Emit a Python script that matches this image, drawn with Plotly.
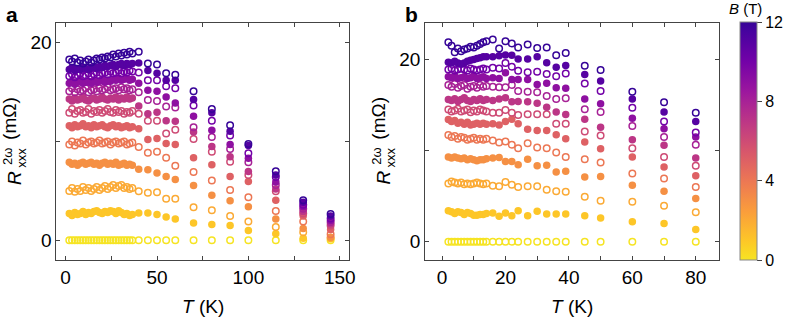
import plotly.graph_objects as go
from plotly.colors import sample_colorscale

W, H = 793, 318

# ---------------- data ----------------
B_FIELDS = list(range(13))  # tesla, 0..12

# panel a temperatures
TA_DENSE = [2.0, 3.5, 5.0, 6.5, 8.0, 9.5, 11.0, 12.5, 14.0, 15.5, 17.0, 18.5,
            20.0, 21.5, 23.0, 24.5, 26.0, 27.5, 29.0, 30.5, 32.0, 33.5, 35.0, 36.5]
TA_SPARSE = [40, 45, 50, 55, 60, 70, 80, 90, 100, 115, 130, 145]

# panel a, dense low-T values (mOhm), one list per B = 0..12
A_DENSE = [
    [0.0] * 24,
    [2.7, 2.5, 2.8, 2.6, 2.7, 2.9, 2.6, 2.8, 2.7, 2.9, 3.0, 2.8, 2.7, 2.9, 2.8, 3.0, 2.9, 2.7, 3.0, 2.8, 2.6, 2.7, 2.5, 2.6],
    [5.0, 5.3, 4.9, 5.2, 5.0, 5.4, 5.1, 5.3, 5.0, 5.2, 5.4, 5.1, 5.3, 5.5, 5.2, 5.4, 5.6, 5.3, 5.5, 5.6, 5.3, 5.4, 5.2, 5.3],
    [7.9, 7.7, 7.8, 7.6, 7.8, 7.9, 7.7, 7.8, 7.9, 7.7, 7.8, 7.6, 7.8, 7.9, 7.7, 7.8, 7.7, 7.9, 7.6, 7.7, 7.8, 7.6, 7.7, 7.6],
    [9.7, 10.0, 9.6, 9.9, 9.8, 10.1, 9.7, 9.9, 10.0, 9.8, 9.9, 10.1, 9.8, 9.9, 10.0, 9.7, 9.9, 10.0, 9.8, 9.9, 10.0, 9.7, 9.8, 9.9],
    [11.6, 11.4, 11.7, 11.5, 11.6, 11.8, 11.5, 11.6, 11.4, 11.7, 11.5, 11.6, 11.7, 11.5, 11.4, 11.6, 11.7, 11.5, 11.6, 11.4, 11.5, 11.6, 11.4, 11.5],
    [12.9, 13.3, 12.8, 13.1, 13.2, 12.9, 13.0, 13.3, 12.8, 13.1, 13.0, 13.2, 12.9, 13.1, 13.3, 13.0, 12.9, 13.2, 13.0, 13.1, 12.8, 13.0, 12.9, 13.1],
    [14.3, 14.1, 14.4, 14.2, 14.3, 14.5, 14.2, 14.1, 14.3, 14.4, 14.2, 14.3, 14.5, 14.3, 14.2, 14.4, 14.3, 14.5, 14.2, 14.4, 14.3, 14.5, 14.3, 14.4],
    [15.1, 15.4, 15.0, 15.3, 15.1, 15.2, 15.4, 15.0, 15.2, 15.3, 15.1, 15.4, 15.2, 15.3, 15.5, 15.2, 15.3, 15.4, 15.2, 15.5, 15.3, 15.4, 15.2, 15.3],
    [15.9, 16.1, 15.8, 16.0, 16.2, 15.9, 16.0, 16.1, 15.9, 16.2, 16.0, 16.1, 16.3, 16.0, 16.2, 16.1, 16.3, 16.2, 16.4, 16.2, 16.3, 16.4, 16.2, 16.3],
    [16.6, 16.8, 16.5, 16.7, 16.9, 16.6, 16.7, 16.9, 16.6, 16.8, 17.0, 16.7, 16.9, 17.0, 16.8, 17.1, 16.9, 17.0, 17.2, 16.9, 17.1, 17.0, 17.2, 17.1],
    [17.3, 17.5, 17.2, 17.4, 17.3, 17.5, 17.4, 17.3, 17.5, 17.6, 17.4, 17.6, 17.5, 17.7, 17.6, 17.7, 17.8, 17.6, 17.8, 17.9, 17.7, 17.9, 17.8, 17.9],
    [18.3, 18.1, 18.4, 18.0, 18.2, 17.9, 18.1, 18.3, 18.0, 18.2, 18.4, 18.3, 18.5, 18.4, 18.6, 18.5, 18.8, 18.6, 18.9, 18.7, 19.0, 18.8, 19.1, 18.9],
]

# panel a, sparse columns: one list per temperature, values for B = 12 .. 0
A_SPARSE_COLS = [
    [19.1, 17.95, 17.0, 15.9, 15.0, 13.6, 12.8, 11.3, 9.45, 7.2, 4.95, 2.75, 0.0],   # 40 K
    [17.9, 17.2, 16.2, 15.2, 14.2, 12.8, 12.1, 10.2, 8.85, 7.15, 4.8, 2.75, 0.0],    # 45 K
    [17.8, 16.9, 16.2, 15.1, 14.1, 12.95, 12.1, 10.3, 8.95, 6.8, 4.85, 2.6, 0.0],    # 50 K
    [16.9, 16.2, 15.6, 14.5, 13.55, 12.1, 10.8, 9.8, 8.35, 6.45, 4.2, 2.35, 0.0],    # 55 K
    [16.75, 16.2, 15.4, 13.9, 13.45, 12.05, 11.2, 9.7, 7.55, 6.15, 4.2, 2.15, 0.0],  # 60 K
    [15.1, 14.25, 13.65, 12.55, 11.45, 10.95, 10.25, 8.35, 6.9, 5.55, 3.35, 1.75, 0.0],  # 70 K
    [13.3, 12.9, 12.1, 11.15, 10.45, 9.5, 8.95, 7.65, 6.05, 4.55, 3.05, 1.6, 0.0],   # 80 K
    [11.65, 11.05, 10.6, 9.7, 9.25, 8.45, 7.95, 6.45, 5.1, 4.0, 2.45, 1.5, 0.0],     # 90 K
    [9.75, 9.6, 8.8, 8.3, 7.9, 6.95, 6.6, 5.95, 4.35, 3.4, 1.9, 1.0, 0.0],           # 100 K
    [7.0, 6.6, 6.4, 5.9, 5.6, 5.2, 4.95, 4.05, 2.95, 2.15, 1.35, 0.65, 0.0],         # 115 K
    [4.05, 3.85, 3.6, 3.4, 3.2, 2.9, 2.7, 2.45, 1.9, 1.2, 0.8, 0.2, 0.0],            # 130 K
    [2.65, 2.45, 2.2, 2.0, 1.85, 1.65, 1.5, 1.1, 0.6, 0.3, 0.25, 0.15, 0.0],         # 145 K
]

# panel b temperatures
TB_DENSE = [2, 3, 4, 5, 6, 7, 8, 9, 10, 11, 12, 13, 14]
TB_SPARSE = [16, 18, 20, 22, 24, 27, 30, 33, 36, 39, 45, 50, 60, 70, 80]

B_DENSE = [
    [0.0] * 13,
    [3.4, 3.3, 3.1, 3.3, 3.2, 3.0, 3.2, 3.1, 2.9, 2.9, 3.0, 3.0, 3.1],
    [6.4, 6.6, 6.5, 6.4, 6.5, 6.3, 6.4, 6.3, 6.4, 6.5, 6.4, 6.3, 6.4],
    [9.3, 9.2, 9.3, 9.2, 9.1, 9.2, 9.0, 9.1, 9.0, 8.9, 9.0, 9.0, 9.1],
    [11.7, 11.5, 11.6, 11.3, 11.5, 11.4, 11.2, 11.3, 11.4, 11.2, 11.3, 11.2, 11.3],
    [13.4, 13.2, 13.3, 13.0, 13.1, 12.9, 13.1, 12.8, 12.9, 13.0, 12.9, 13.0, 12.9],
    [14.5, 14.3, 14.4, 14.6, 14.3, 14.4, 14.5, 14.2, 14.4, 14.3, 14.5, 14.4, 14.3],
    [15.6, 15.5, 15.7, 15.4, 15.6, 15.8, 15.5, 15.4, 15.6, 15.5, 15.7, 15.5, 15.6],
    [17.2, 17.0, 17.3, 16.9, 17.1, 17.2, 16.8, 17.0, 17.1, 16.9, 17.2, 17.0, 17.1],
    [18.1, 18.0, 18.2, 17.9, 18.0, 18.1, 17.9, 18.0, 18.2, 17.9, 18.0, 18.1, 17.9],
    [18.9, 19.0, 18.8, 18.9, 19.0, 18.9, 18.8, 19.0, 18.9, 18.8, 18.9, 19.0, 18.9],
    [19.7, 19.6, 19.8, 19.6, 19.5, 19.6, 19.8, 19.9, 20.0, 20.1, 20.2, 20.3, 20.3],
    [21.9, 21.5, 20.8, 21.2, 20.9, 21.1, 21.2, 21.4, 21.3, 21.5, 21.7, 21.9, 22.0],
]

# panel b, sparse columns: one list per temperature, values for B = 12 .. 0
B_SPARSE_COLS = [
    [22.2, 20.3, 19.1, 18.0, 17.0, 15.5, 14.15, 12.95, 11.1, 9.2, 6.15, 3.15, 0.0],   # 16 K
    [21.2, 20.4, 19.0, 17.9, 16.95, 15.65, 14.15, 12.8, 10.9, 9.25, 6.1, 2.8, 0.0],   # 18 K
    [22.0, 20.5, 19.6, 18.55, 16.95, 15.8, 14.45, 13.2, 11.0, 8.8, 6.55, 3.15, 0.0],  # 20 K
    [21.75, 20.45, 19.2, 17.8, 17.2, 15.35, 14.15, 13.45, 10.65, 8.8, 6.25, 2.85, 0.0],  # 22 K
    [21.3, 20.05, 18.75, 17.8, 16.55, 15.4, 13.9, 12.95, 10.25, 8.45, 6.0, 3.4, 0.0],  # 24 K
    [21.65, 20.05, 18.6, 17.8, 16.45, 15.35, 14.0, 12.35, 10.8, 9.05, 6.1, 2.85, 0.0],  # 27 K
    [21.25, 20.3, 18.65, 17.25, 16.4, 15.2, 14.0, 12.2, 10.35, 8.35, 6.1, 3.35, 0.0],  # 30 K
    [21.3, 19.65, 18.4, 17.4, 16.0, 14.75, 14.0, 12.2, 10.25, 8.4, 5.7, 3.05, 0.0],   # 33 K
    [20.45, 19.15, 18.15, 16.9, 15.65, 14.25, 12.95, 11.75, 9.8, 7.65, 5.55, 3.05, 0.0],  # 36 K
    [20.7, 19.35, 18.45, 16.85, 15.75, 13.95, 12.95, 11.3, 9.3, 7.75, 5.5, 3.05, 0.0],  # 39 K
    [19.3, 18.35, 17.35, 15.65, 14.55, 13.45, 12.1, 10.95, 9.05, 7.1, 4.95, 2.85, 0.0],  # 45 K
    [18.85, 17.65, 16.55, 15.15, 14.25, 12.55, 11.65, 10.2, 8.7, 7.15, 4.5, 2.6, 0.0],  # 50 K
    [16.45, 15.65, 14.7, 13.55, 12.7, 11.2, 10.25, 9.3, 7.5, 6.2, 4.4, 2.2, 0.0],     # 60 K
    [15.3, 14.25, 13.2, 12.4, 11.5, 10.6, 9.3, 8.2, 6.95, 5.55, 3.95, 2.0, 0.0],      # 70 K
    [14.15, 13.2, 12.0, 11.5, 10.65, 9.2, 8.35, 7.25, 6.0, 4.75, 3.25, 1.35, 0.0],    # 80 K
]

CB_TICKS = [0, 4, 8, 12]

# ---------------- style ----------------
FONT = "Arial, 'Liberation Sans', sans-serif"
AXC = "#444444"

def px_x(px):
    return px / W

def px_y(py):
    return 1 - py / H

# colorscale: plasma, yellow at B=0 -> deep blue-violet at B=12
n_cs = 25
COLORSCALE = []
for i in range(n_cs):
    s = i / (n_cs - 1)
    COLORSCALE.append([s, sample_colorscale("Plasma", [0.95 - 0.87 * s])[0]])

fig = go.Figure()

def add_panel(t_dense, dense, t_sparse, sparse_cols, xa, ya):
    for b in B_FIELDS:
        ys = dense[b] + [col[12 - b] for col in sparse_cols]
        xs = list(t_dense) + list(t_sparse)
        is_open = (b % 2 == 0)
        fig.add_trace(go.Scatter(
            x=xs, y=ys, mode="markers", xaxis=xa, yaxis=ya,
            showlegend=False, hoverinfo="skip",
            marker=dict(
                symbol="circle-open" if is_open else "circle",
                size=6.5 if is_open else 7.5,
                color=[b] * len(xs), coloraxis="coloraxis",
                line=dict(width=1.5) if is_open else dict(width=0),
            ),
        ))

add_panel(TA_DENSE, A_DENSE, TA_SPARSE, A_SPARSE_COLS, "x", "y")
add_panel(TB_DENSE, B_DENSE, TB_SPARSE, B_SPARSE_COLS, "x2", "y2")

ydom = [px_y(260), px_y(23)]
axis_common = dict(
    showline=True, mirror="ticks", linecolor=AXC, linewidth=1,
    ticks="inside", ticklen=4, tickwidth=1, tickcolor=AXC,
    showgrid=False, zeroline=False,
    tickfont=dict(family=FONT, size=19, color="black"),
)

fig.update_layout(
    width=W, height=H,
    margin=dict(l=0, r=0, t=0, b=0),
    paper_bgcolor="white", plot_bgcolor="white",
    font=dict(family=FONT, color="black"),
    xaxis=dict(domain=[px_x(57), px_x(352)], range=[-5, 155], anchor="y",
               tickvals=[0, 50, 100, 150],
               minor=dict(ticks="inside", ticklen=4, tickcolor=AXC, dtick=25, tick0=0),
               **axis_common),
    yaxis=dict(domain=ydom, range=[-2, 22], anchor="x",
               tickvals=[0, 10, 20], ticktext=["0", "", "20"], **axis_common),
    xaxis2=dict(domain=[px_x(429), px_x(725)], range=[-5.3, 87.2], anchor="y2",
                tickvals=[0, 20, 40, 60, 80],
                minor=dict(ticks="inside", ticklen=4, tickcolor=AXC, dtick=10, tick0=0),
                **axis_common),
    yaxis2=dict(domain=ydom, range=[-2, 24], anchor="x2",
                tickvals=[0, 10, 20], ticktext=["0", "", "20"], **axis_common),
    coloraxis=dict(
        cmin=0, cmax=12, colorscale=COLORSCALE,
        colorbar=dict(
            x=px_x(747), xanchor="left", xpad=0,
            y=px_y(260), yanchor="bottom", ypad=0,
            len=238, lenmode="pixels",
            thickness=17, thicknessmode="pixels",
            outlinewidth=1, outlinecolor="#888888",
            ticks="outside", ticklen=5, tickcolor=AXC,
            tickvals=CB_TICKS,
            tickfont=dict(family=FONT, size=16, color="black"),
        ),
    ),
)

ann = []
# panel letters
ann.append(dict(text="<b>a</b>", x=px_x(4), y=px_y(1), xanchor="left", yanchor="top",
                font=dict(size=21)))
ann.append(dict(text="<b>b</b>", x=px_x(407), y=px_y(1), xanchor="left", yanchor="top",
                font=dict(size=21)))
# x titles
for cx in (204.5, 577):
    ann.append(dict(text="<i>T</i> (K)", x=px_x(cx), y=px_y(306), xanchor="center",
                    yanchor="middle", font=dict(size=19)))
# y titles, built from pieces to stack sub/superscript
for dx in (0, 372):
    ann.append(dict(text="(mΩ)", x=px_x(10 + dx), y=px_y(118), textangle=-90,
                    xanchor="center", yanchor="middle", font=dict(size=19)))
    ann.append(dict(text="2ω", x=px_x(7 + dx), y=px_y(156), textangle=-90,
                    xanchor="center", yanchor="middle", font=dict(size=13)))
    ann.append(dict(text="xxx", x=px_x(21 + dx), y=px_y(158), textangle=-90,
                    xanchor="center", yanchor="middle", font=dict(size=13)))
    ann.append(dict(text="<i>R</i>", x=px_x(14 + dx), y=px_y(178), textangle=-90,
                    xanchor="center", yanchor="middle", font=dict(size=19)))
# colorbar title
ann.append(dict(text="<i>B</i> (T)", x=px_x(752), y=px_y(9), xanchor="center",
                yanchor="middle", font=dict(size=15)))

for a in ann:
    a.update(xref="paper", yref="paper", showarrow=False)
    a.setdefault("font", {})
    a["font"] = dict(family=FONT, color="black", **a["font"])
fig.update_layout(annotations=ann)

fig.write_html(
    "out.html",
    config={"displayModeBar": False},
    post_script="document.body.style.margin='0';document.body.style.padding='0';",
)
